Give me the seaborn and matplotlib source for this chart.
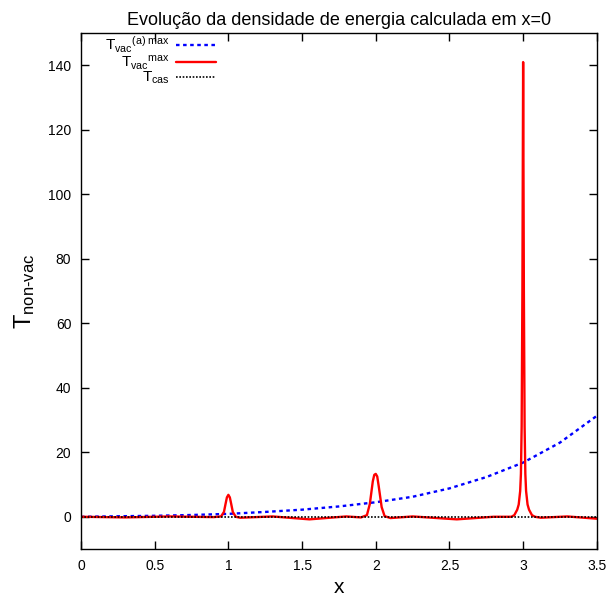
import numpy as np
import pandas as pd
import matplotlib
matplotlib.use("Agg")
import matplotlib.pyplot as plt
import seaborn as sns

# Data
blue_x = [0.0, 0.25, 0.5, 0.75, 1.0, 1.25, 1.5, 1.75, 2.0, 2.25, 2.5, 2.75, 3.0, 3.25, 3.5]
blue_y = [0.0, 0.15, 0.3, 0.55, 0.9, 1.5, 2.2, 3.2, 4.5, 6.2, 8.8, 12.3, 16.8, 23.0, 31.3]

red_x = [0.0, 0.3, 0.6, 0.9, 0.95, 0.97, 0.98, 0.99, 1.0, 1.01, 1.02, 1.03, 1.05, 1.08,
         1.3, 1.55, 1.8, 1.9, 1.94, 1.96, 1.98, 1.99, 2.0, 2.01, 2.02, 2.04, 2.06, 2.1,
         2.25, 2.55, 2.8, 2.92, 2.94, 2.96, 2.97, 2.98, 2.985, 2.99, 2.995, 3.0,
         3.005, 3.01, 3.015, 3.02, 3.03, 3.04, 3.06, 3.08, 3.12, 3.3, 3.5]
red_y = [0.0, -0.2, 0.1, -0.1, 0.1, 1.5, 3.8, 6.0, 6.8, 6.0, 3.8, 1.5, 0.0, -0.3,
         0.1, -0.8, 0.1, -0.2, 0.5, 4.0, 11.0, 13.0, 13.3, 12.5, 9.5, 3.0, 0.2, -0.4,
         0.1, -0.8, 0.0, 0.0, 0.5, 2.2, 3.8, 8.0, 13.3, 28.0, 70.0, 141.0,
         70.0, 28.0, 13.3, 8.0, 3.8, 2.2, 0.5, 0.0, -0.3, 0.1, -0.6]

black_x = [0.0, 3.5]
black_y = [0.0, 0.0]

labels = [r"T$_{\mathrm{vac}}$$^{\mathrm{(a)\ max}}$",
          r"T$_{\mathrm{vac}}$$^{\mathrm{max}}$",
          r"T$_{\mathrm{cas}}$"]

sns.set_theme(style="ticks")
plt.rcParams['font.family'] = ['Liberation Sans', 'DejaVu Sans']
plt.rcParams['mathtext.fontset'] = 'custom'
plt.rcParams['mathtext.rm'] = 'Liberation Sans'
plt.rcParams['mathtext.it'] = 'Liberation Sans'
plt.rcParams['mathtext.default'] = 'regular'
plt.rcParams['text.color'] = 'black'
plt.rcParams['axes.labelcolor'] = 'black'

fig = plt.figure(figsize=(6.09, 6.01), dpi=100)
ax = fig.add_axes([0.133, 0.0865, 0.847, 0.8585])

sns.lineplot(x=blue_x, y=blue_y, ax=ax, color='#0000ff', lw=1.7,
             linestyle=(0, (1.5, 1.5)), label=labels[0])
sns.lineplot(x=red_x, y=red_y, ax=ax, color='#ff0000', lw=1.7, label=labels[1])
sns.lineplot(x=black_x, y=black_y, ax=ax, color='black', lw=1.2,
             linestyle=(0, (1, 1)), label=labels[2])

ax.set_xlim(0, 3.5)
ax.set_ylim(-10, 150)
ax.set_xticks([0, 0.5, 1, 1.5, 2, 2.5, 3, 3.5])
ax.set_xticklabels(['0', '0.5', '1', '1.5', '2', '2.5', '3', '3.5'])
ax.set_yticks([0, 20, 40, 60, 80, 100, 120, 140])
ax.tick_params(direction='in', top=True, right=True, length=6, width=1,
               labelsize=10, colors='black', labelcolor='black', pad=7)
for s in ax.spines.values():
    s.set_linewidth(1)
    s.set_color('black')

ax.set_xlabel('x', fontsize=15, color='black')
ax.set_ylabel("T$_{\\mathrm{non\u2010vac}}$", fontsize=17, labelpad=8, color='black')
ax.set_title('Evolução da densidade de energia calculada em x=0', fontsize=13, pad=6,
             color='black')

leg = ax.legend(loc='upper left', frameon=False, markerfirst=False, fontsize=11,
                handlelength=2.6, borderaxespad=0.0, labelspacing=-0.12,
                handletextpad=0.4, bbox_to_anchor=(0.035, 1.008))
for t in leg.get_texts():
    t.set_ha('right')
    t.set_color('black')

fig.savefig('out.png', dpi=100)
